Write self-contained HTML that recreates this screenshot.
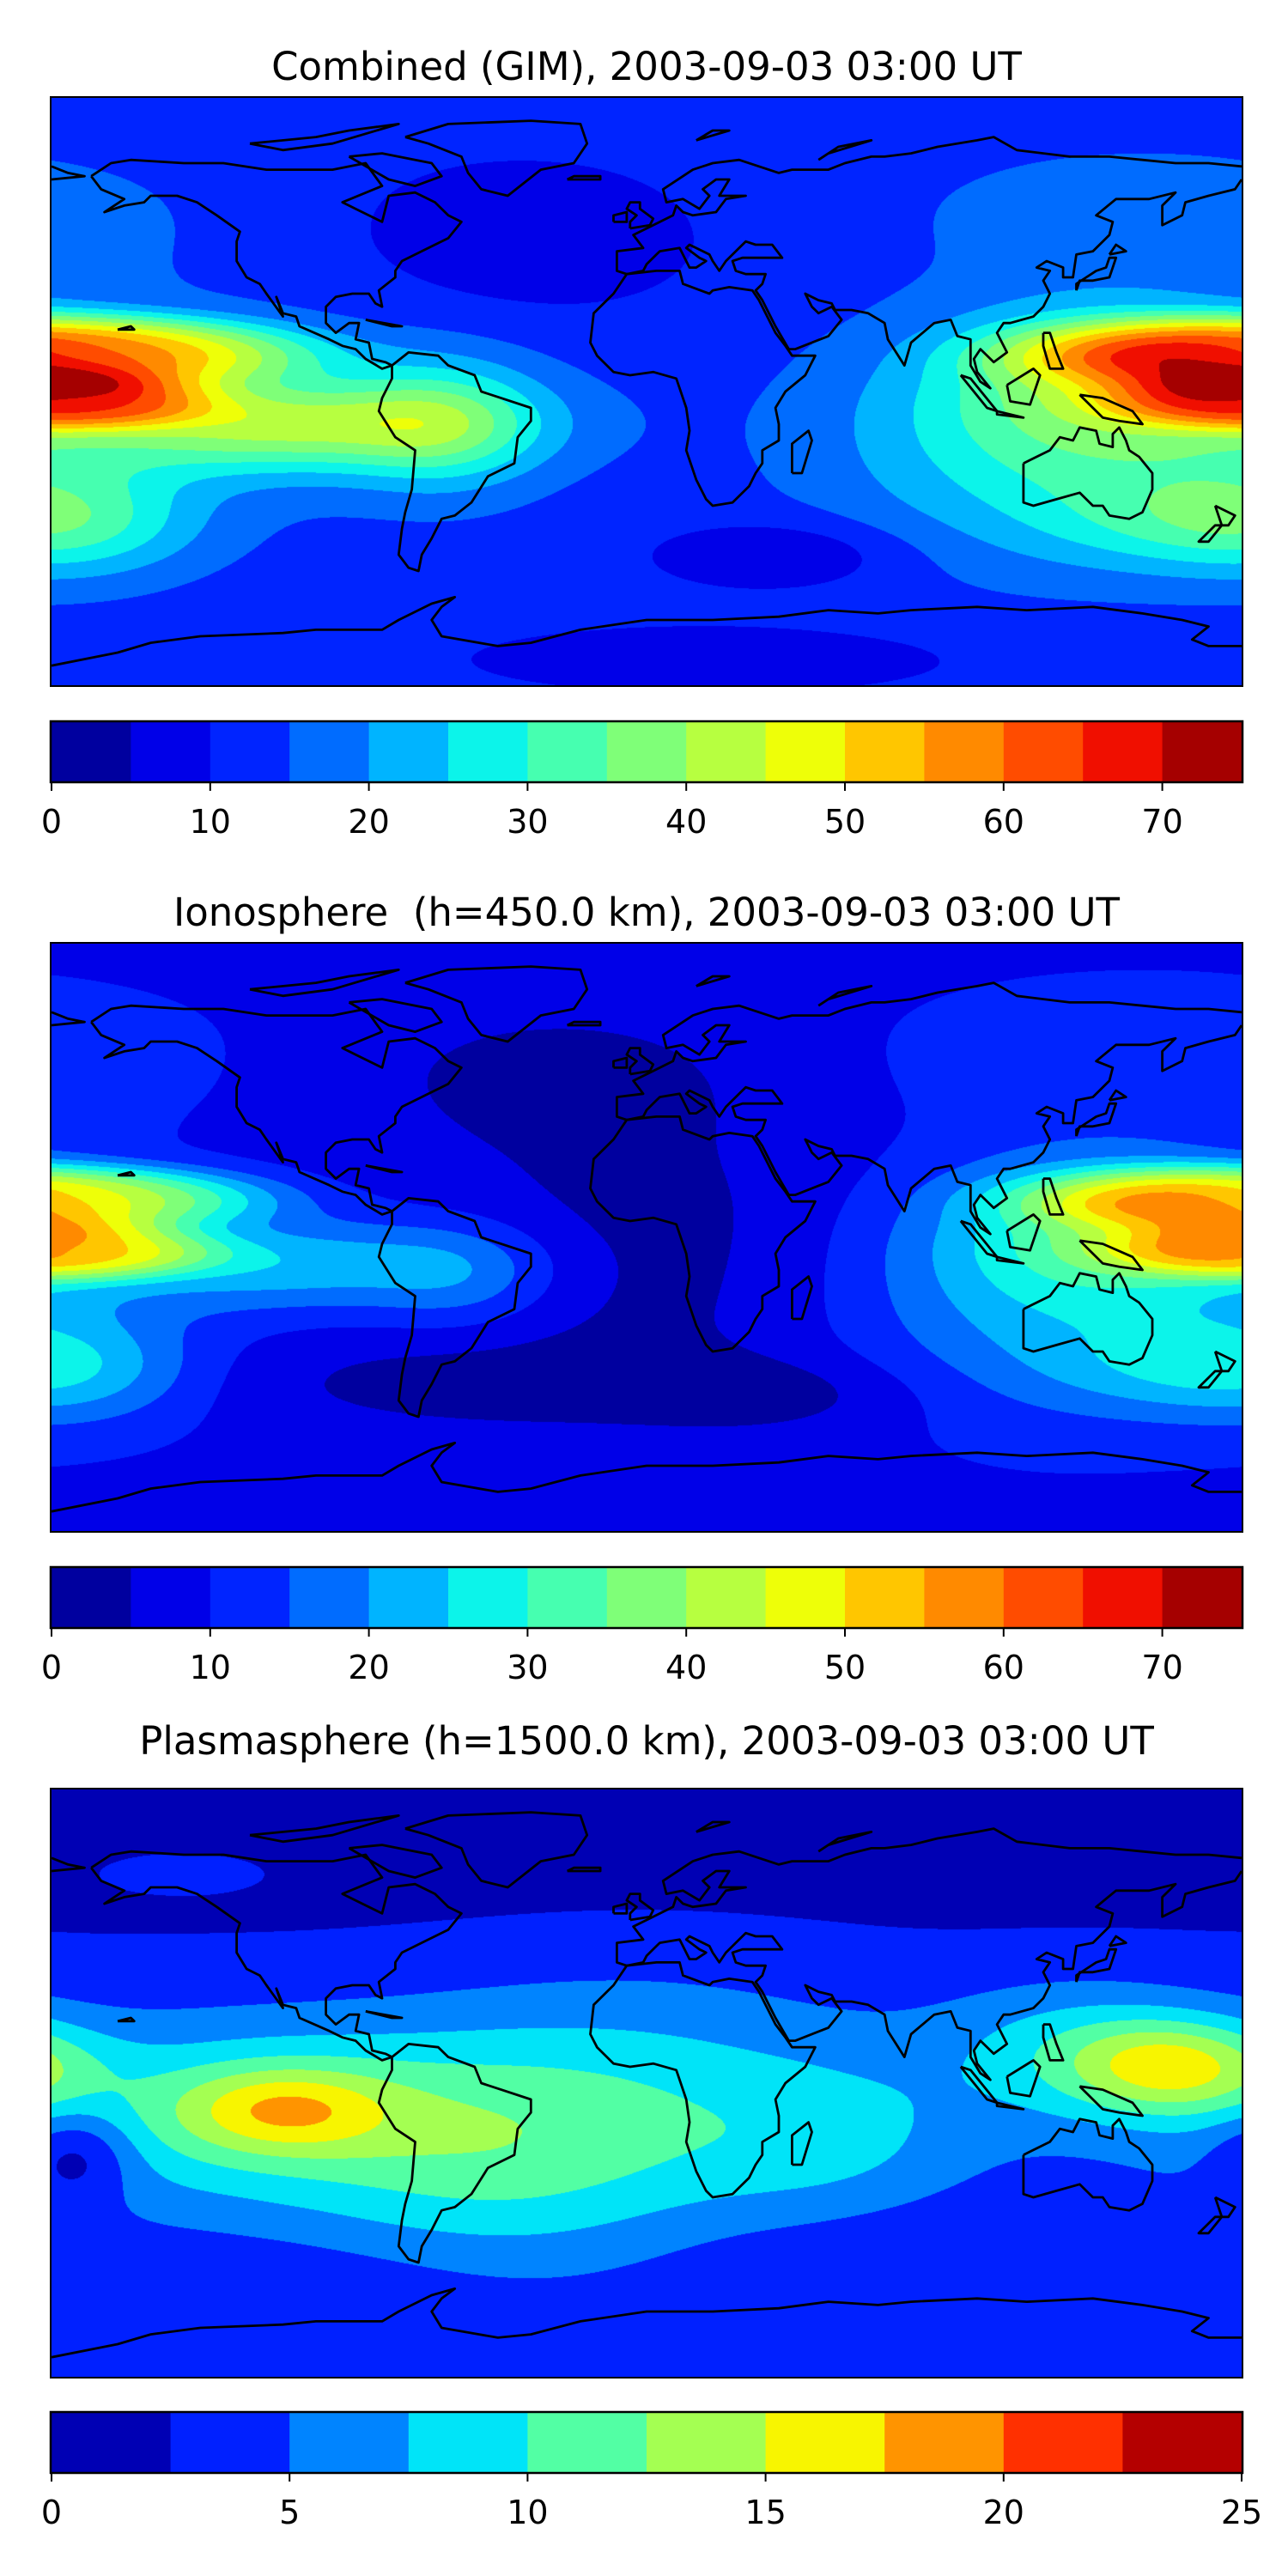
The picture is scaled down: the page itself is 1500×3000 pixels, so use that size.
<!DOCTYPE html>
<html><head><meta charset="utf-8">
<style>
html,body{margin:0;padding:0;background:#fff;}
body{width:1500px;height:3000px;position:relative;overflow:hidden;font-family:"DejaVu Sans","Liberation Sans",sans-serif;}
.title{position:absolute;left:0;width:1506px;text-align:center;font-size:45px;line-height:1;color:#000;white-space:pre;}
.map{position:absolute;left:60px;width:1386px;height:684px;}
.map canvas,.map svg{position:absolute;left:0;top:0;}
.frame{position:absolute;left:-2px;top:-2px;width:1386px;height:684px;border:2px solid #000;}
.cbar{position:absolute;left:20px;overflow:visible;}
</style></head>
<body>
<script>
// ---------- data ----------
const titles = ["Combined (GIM), 2003-09-03 03:00 UT","Ionosphere  (h=450.0 km), 2003-09-03 03:00 UT","Plasmasphere (h=1500.0 km), 2003-09-03 03:00 UT"];
const mapTops = [114, 1099, 2084];
const cbarTops = [841, 1826, 2810];
const titleTops = [55, 1040, 2005];
const levels1 = [0,5,10,15,20,25,30,35,40,45,50,55,60,65,70,75];
const levels3 = [0,2.5,5,7.5,10,12.5,15,17.5,20,22.5,25];
const colors1 = ['#00009f','#0000e8','#0024ff','#006cff','#00b4ff','#0cf4ea','#46ffb0','#7fff78','#b7ff40','#eeff08','#ffc600','#ff8a00','#ff4c00','#f00f00','#a50000'];
const colors3 = ['#0000b4','#0020ff','#0084ff','#00e4f8','#52ffa4','#a4ff52','#f8f500','#ff9400','#ff3000','#b40000'];
const ticks1 = [0,10,20,30,40,50,60,70];
const ticks3 = [0,5,10,15,20,25];
// field components: [lon, lat, amplitude, sigmaLon, sigmaLat, power]
const base1 = 12;
const bumps1 = [[-175,12,38,55,9,1.5],[-175,-3,30,35,7,1.5],[-110,-10,26,45,10,1],[-60,-10,14,20,14,1],
 [140,5,14,35,15,1],[130,-15,18,50,25,1],[160,-40,8,30,10,1],[-170,-40,12,25,12,1],
 [-40,45,-6,40,18,1],[40,-50,-8,25,7,1],[20,-82,-6,50,7,1],[150,55,6,50,15,1],[-100,0,4,60,30,1]];
const base2 = 9;
const bumps2 = [[180,12,31,50,8,1.5],[-175,-4,28,35,7,1.5],[-110,-8,15,45,10,1],[-55,-12,8,20,12,1],
 [145,3,16,35,14,1],[125,-15,14,45,25,1],[160,-40,8,30,10,1],[-170,-40,10,25,12,1],
 [0,-5,-6,50,35,1],[-30,50,-5,40,15,1],[40,-48,-5,30,8,1],[-60,-45,-5,50,10,1],[150,55,5,50,15,1]];
const base3 = 3.5;
const bumps3 = [[-120,-10,7,55,20,1],[-110,-8,6.8,22,9,1],[-50,-25,3.5,40,25,1],[0,-10,5,50,30,1],[60,-20,3,30,20,1],
 [160,5,9,22,10,1],[130,10,5,30,15,1],[-140,65,2,20,5,1],[-172,-22,-5,12,10,1],
 [60,-50,-2,50,15,1],[0,85,-2.5,400,33,1],[-100,-60,-1,60,10,1]];
const panelBases = [base1, base2, base3];
const panelBumps = [bumps1, bumps2, bumps3];
const panelLevels = [levels1, levels1, levels3];
const panelColors = [colors1, colors1, colors3];
const panelTicks = [ticks1, ticks1, ticks3];
// coastlines (lon, lat)
const coasts = [
[[-168,66],[-162,70],[-156,71],[-140,70],[-128,70],[-115,68],[-95,68],[-85,70],[-80,63],[-92,58],[-88,56],[-80,52],[-78,60],[-70,61],[-64,58],[-60,54],[-56,52],[-60,47],[-66,44],[-70,42],[-74,40],[-76,37],[-76,35],[-81,31],[-80,26],[-82,27],[-84,30],[-89,30],[-94,29],[-97,26],[-97,21],[-94,18],[-90,21],[-87,21],[-88,16],[-84,15],[-83,10],[-79,9],[-77,8],[-80,7],[-85,10],[-88,13],[-92,14],[-96,16],[-105,20],[-106,23],[-110,24],[-112,29],[-110,23],[-115,30],[-117,33],[-121,35],[-124,40],[-124,46],[-123,49],[-130,54],[-136,58],[-142,60],[-150,60],[-152,58],[-158,57],[-164,55],[-158,59],[-165,62],[-168,66]],
[[-73,78],[-60,82],[-35,83],[-20,82],[-18,76],[-22,70],[-32,68],[-42,60],[-50,62],[-54,67],[-56,72],[-66,76],[-73,78]],
[[-90,72],[-80,73],[-65,70],[-62,66],[-70,63],[-78,65],[-90,72]],
[[-120,76],[-100,78],[-90,80],[-75,82],[-95,76],[-110,74],[-120,76]],
[[-77,8],[-72,12],[-63,11],[-60,8],[-52,5],[-50,0],[-44,-2],[-35,-5],[-35,-9],[-39,-14],[-40,-22],[-48,-26],[-53,-34],[-58,-38],[-62,-39],[-65,-45],[-68,-50],[-69,-55],[-72,-54],[-75,-50],[-74,-42],[-73,-37],[-71,-30],[-70,-18],[-76,-14],[-81,-6],[-80,-2],[-77,4],[-77,8]],
[[-6,36],[-9,37],[-9,43],[-1,44],[-4,48],[2,51],[8,54],[9,57],[11,55],[14,54],[21,55],[24,59],[30,60],[22,60],[25,65],[21,65],[17,62],[19,60],[16,56],[11,59],[6,58],[5,62],[14,68],[20,70],[28,71],[40,67],[44,68],[55,68],[60,70],[68,72],[72,72],[80,73],[88,75],[100,77],[105,78],[112,74],[128,72],[140,72],[150,71],[160,70],[170,70],[180,69]],
[[180,65],[178,62],[170,60],[163,58],[162,54],[156,51],[156,57],[160,61],[152,59],[142,59],[136,54],[141,52],[140,48],[135,43],[130,42],[129,35],[126,35],[126,38],[121,40],[118,38],[122,37],[120,34],[122,30],[120,26],[117,23],[110,21],[108,21],[106,18],[109,12],[105,9],[101,13],[99,10],[100,6],[104,1],[101,3],[98,8],[98,16],[94,17],[92,22],[87,21],[80,15],[78,8],[73,16],[72,21],[67,24],[62,25],[57,25],[56,27],[52,28],[48,30],[50,26],[52,24],[56,26],[59,22],[55,17],[45,13],[43,13],[39,20],[35,28],[33,31],[35,33],[36,36],[30,36],[27,37],[26,40],[29,41],[41,41],[38,45],[33,45],[30,46],[28,44],[24,40],[22,37],[20,40],[19,42],[13,45],[12,44],[16,41],[18,40],[15,38],[13,38],[10,44],[4,43],[3,42],[0,39],[-1,37],[-6,36]],
[[-180,69],[-175,67],[-170,66],[-180,65]],
[[-6,36],[-10,30],[-16,24],[-17,15],[-15,11],[-10,6],[-5,5],[2,6],[9,4],[10,1],[12,-5],[13,-12],[12,-18],[15,-27],[18,-33],[20,-35],[26,-34],[31,-29],[33,-25],[35,-22],[35,-18],[40,-15],[40,-10],[39,-5],[42,0],[48,5],[51,11],[44,11],[42,14],[39,18],[37,22],[34,28],[32,31],[25,32],[20,31],[19,30],[11,33],[10,37],[3,37],[-6,36]],
[[114,-22],[114,-34],[117,-35],[124,-33],[131,-31],[135,-35],[138,-35],[140,-38],[146,-39],[150,-37],[153,-30],[153,-25],[149,-20],[146,-18],[145,-15],[143,-11],[141,-13],[141,-17],[137,-16],[136,-12],[131,-11],[129,-15],[125,-14],[122,-18],[114,-22]],
[[-180,-84],[-160,-80],[-150,-77],[-135,-75],[-110,-74],[-100,-73],[-80,-73],[-75,-70],[-65,-65],[-58,-63],[-62,-66],[-65,-70],[-62,-75],[-45,-78],[-35,-77],[-20,-73],[0,-70],[20,-70],[40,-69],[55,-67],[70,-68],[80,-67],[100,-66],[115,-67],[135,-66],[150,-68],[162,-70],[170,-72],[165,-76],[170,-78],[180,-78]],
[[130,31],[131,34],[135,34],[140,35],[141,38],[142,41],[140,41],[139,38],[136,37],[133,35],[130,33],[130,31]],
[[140,42],[145,43],[142,45],[140,42]],
[[-5,50],[1,51],[2,53],[-2,56],[-2,58],[-5,58],[-6,56],[-3,54],[-5,52],[-5,50]],
[[-10,52],[-6,52],[-6,55],[-10,54],[-10,52]],
[[44,-25],[47,-25],[50,-15],[49,-12],[44,-16],[44,-25]],
[[172,-35],[178,-38],[176,-41],[172,-41],[167,-46],[170,-46],[174,-41],[172,-35]],
[[95,5],[98,4],[106,-6],[103,-5],[95,5]],
[[109,2],[117,7],[119,5],[116,-4],[110,-3],[109,2]],
[[131,-1],[138,-2],[147,-6],[150,-10],[143,-9],[138,-8],[131,-1]],
[[106,-6],[114,-8],[106,-7],[106,-6]],
[[120,18],[122,18],[124,12],[126,7],[122,7],[120,14],[120,18]],
[[-24,65],[-14,65],[-14,66],[-22,66],[-24,65]],
[[-85,22],[-74,20],[-77,20],[-85,22]],
[[-160,19],[-155,19],[-156,20],[-160,19]],
[[15,77],[25,80],[20,80],[15,77]],
[[52,71],[58,75],[68,77],[55,73],[52,71]]
];
</script>
<script>
const W = 1386, H = 684;
const xOf = lon => (lon + 180) / 360 * W;
const yOf = lat => (90 - lat) / 180 * H;
function hex(c){return [parseInt(c.substr(1,2),16),parseInt(c.substr(3,2),16),parseInt(c.substr(5,2),16)];}
for (let p = 0; p < 3; p++) {
  const t = document.createElement('div');
  t.className = 'title';
  t.style.top = titleTops[p] + 'px';
  t.textContent = titles[p];
  
  
  document.body.appendChild(t);

  const m = document.createElement('div');
  m.className = 'map';
  m.style.top = mapTops[p] + 'px';
  
  
  document.body.appendChild(m);

  const cv = document.createElement('canvas');
  cv.width = W; cv.height = H;
  
  
  m.appendChild(cv);
  const ctx = cv.getContext('2d');
  const img = ctx.createImageData(W, H);
  const lv = panelLevels[p], cols = panelColors[p].map(hex), bumps = panelBumps[p], base = panelBases[p];
  for (let j = 0; j < H; j++) {
    const lat = 90 - (j + 0.5) / H * 180;
    for (let i = 0; i < W; i++) {
      const lon = -180 + (i + 0.5) / W * 360;
      let v = base;
      for (const b of bumps) {
        let dl = ((lon - b[0] + 540) % 360) - 180;
        const r2 = (dl/b[3])*(dl/b[3]) + ((lat-b[1])/b[4])*((lat-b[1])/b[4]);
        v += b[2] * Math.exp(-0.5 * Math.pow(r2, b[5]));
      }
      let k = 0;
      while (k < cols.length - 1 && v >= lv[k+1]) k++;
      const c = cols[k], o = (j*W + i) * 4;
      img.data[o] = c[0]; img.data[o+1] = c[1]; img.data[o+2] = c[2]; img.data[o+3] = 255;
    }
  }
  ctx.putImageData(img, 0, 0);

  const ns = 'http://www.w3.org/2000/svg';
  const svg = document.createElementNS(ns, 'svg');
  svg.setAttribute('width', W); svg.setAttribute('height', H);
  
  
  for (const c of coasts) {
    const pl = document.createElementNS(ns, 'polyline');
    pl.setAttribute('points', c.map(q => xOf(q[0]).toFixed(1) + ',' + yOf(q[1]).toFixed(1)).join(' '));
    pl.setAttribute('fill', 'none'); pl.setAttribute('stroke', '#000'); pl.setAttribute('stroke-width', '2.8');
    pl.setAttribute('stroke-linejoin', 'round');
    
    
    svg.appendChild(pl);
  }
  m.appendChild(svg);
  const fr = document.createElement('div');
  fr.className = 'frame';
  
  
  m.appendChild(fr);

  // colorbar
  const cb = document.createElementNS(ns, 'svg');
  cb.setAttribute('class', 'cbar');
  cb.style.top = (cbarTops[p] - 2) + 'px';
  cb.setAttribute('width', 1470); cb.setAttribute('height', 150);
  
  
  const x0 = 40, bw = 1386, bh = 69, vmax = lv[lv.length-1];
  const cx = v => x0 + v / vmax * bw;
  for (let k = 0; k < cols.length; k++) {
    const r = document.createElementNS(ns, 'rect');
    r.setAttribute('x', cx(lv[k])); r.setAttribute('y', 2);
    r.setAttribute('width', cx(lv[k+1]) - cx(lv[k]) + 0.5); r.setAttribute('height', bh);
    r.setAttribute('fill', panelColors[p][k]);
    
    
    cb.appendChild(r);
  }
  const bd = document.createElementNS(ns, 'rect');
  bd.setAttribute('x', x0 - 1); bd.setAttribute('y', 1); bd.setAttribute('width', bw + 2); bd.setAttribute('height', bh + 2);
  bd.setAttribute('fill', 'none'); bd.setAttribute('stroke', '#000'); bd.setAttribute('stroke-width', 2.5);
  
  
  cb.appendChild(bd);
  for (const tv of panelTicks[p]) {
    const ln = document.createElementNS(ns, 'line');
    ln.setAttribute('x1', cx(tv)); ln.setAttribute('x2', cx(tv));
    ln.setAttribute('y1', bh + 2); ln.setAttribute('y2', bh + 13);
    ln.setAttribute('stroke', '#000'); ln.setAttribute('stroke-width', 2);
    
    
    cb.appendChild(ln);
    const tx = document.createElementNS(ns, 'text');
    tx.setAttribute('x', cx(tv)); tx.setAttribute('y', bh + 62);
    tx.setAttribute('text-anchor', 'middle');
    tx.setAttribute('font-size', '38');
    tx.setAttribute('font-family', 'DejaVu Sans, Liberation Sans, sans-serif');
    tx.textContent = String(tv);
    
    
    cb.appendChild(tx);
  }
  document.body.appendChild(cb);
}
</script>
</body></html>
